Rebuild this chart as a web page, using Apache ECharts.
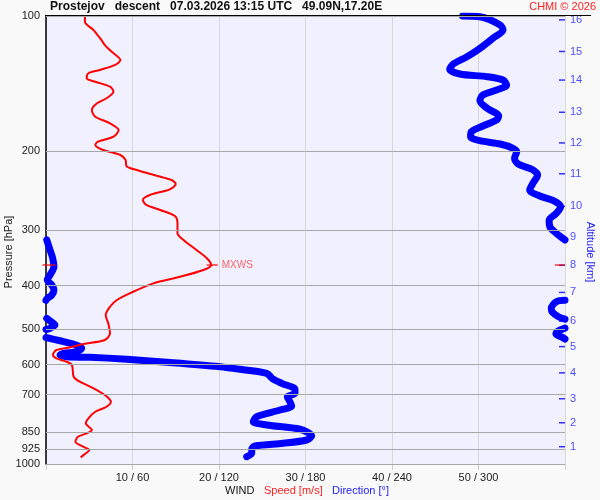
<!DOCTYPE html>
<html>
<head>
<meta charset="utf-8">
<script src="https://cdn.jsdelivr.net/npm/echarts@6/dist/echarts.min.js"></script>
<style>
html, body { margin: 0; padding: 0; background: #f9f9f9; }
#chart { width: 600px; height: 500px; }
</style>
</head>
<body>
<div id="chart"></div>
<script>
// pressure levels with grid lines (hPa)
const pressureTicks = [100, 200, 300, 400, 500, 600, 700, 850, 925, 1000]

// altitude marks on the right side: km and the pressure they sit at
const altKm = [1, 2, 3, 4, 5, 6, 7, 8, 9, 10, 11, 12, 13, 14, 15, 16]
const altP = [915, 809, 715, 626, 547, 480, 414, 360, 311, 266, 225, 192, 164, 139, 120, 102]

// wind speed profile [m/s] vs pressure [hPa]
const speedP = [100, 103, 107.5, 113.1, 116.1, 120.2, 125.4, 128.6, 132.0, 134.2, 137.7, 140.2, 143.8, 147.6, 152.6, 156.6,
  162.1, 167.8, 173.6, 179.7, 185.9, 190.8, 194.1, 199.1, 204.3, 209.6, 216.2, 220.7, 227.3, 232.3, 237.1, 243.7,
  250.9, 257.4, 264.1, 271.0, 279.5, 290.2, 305.5, 316.2, 332.9, 347.4, 359.6, 369.0, 381.9, 395.2, 412.6, 430.5,
  445.6, 465.0, 485.3, 510.9, 528.8, 539.8, 549.0, 556.7, 571.2, 581.0, 591.2, 601.2, 638.5, 655.2, 677.7, 701.5,
  726.1, 745.0, 764.4, 790.7, 811.3, 839.7, 854.1, 869.2, 891.8, 915.0, 930.7, 950.0, 966.3]
const speedV = [4.5, 4.5, 5.5, 6.4, 6.8, 7.6, 8.6, 8.0, 6.2, 4.9, 4.7, 5.7, 7.4, 7.8, 7.0, 5.9,
  5.3, 5.7, 7.4, 8.4, 7.8, 6.0, 5.7, 6.6, 8.6, 9.2, 9.3, 10.5, 12.8, 14.5, 15.0, 14.3,
  12.0, 11.2, 11.6, 13.2, 14.9, 15.2, 15.2, 15.9, 17.4, 18.6, 19.1, 18.2, 15.5, 12.4, 10.1, 8.2,
  7.4, 6.9, 7.2, 7.4, 6.8, 4.3, 2.8, 1.2, 0.8, 1.2, 2.4, 3.0, 3.2, 3.9, 5.5, 6.8,
  7.5, 7.0, 5.7, 4.9, 4.6, 5.3, 4.7, 3.7, 3.4, 4.3, 5.0, 4.5, 4.0]

// wind direction [deg] vs pressure, null = line break where it wraps 360 -> 0
const dirP = [100, 100.4, 104.7, 107.5, 112.1, 118.1, 123.3, 128.0, 131.5, 134.7, 136.6, 139.0, 142.6, 146.3, 150.1, 154.6,
  160.7, 167.2, 170.7, 176.0, 181.3, 185.9, 189.8, 193.1, 197.4, 200.9, 207.8, 214.0, 219.9, 226.4, 235.6, 244.6,
  252.2, 258.4, 266.5, 275.6, 285.4, 295.4, 305.5, 316, null,
  316, 332.9, 346.9, 362.7, 378.6, 388.5, 398.6, 409.0, 419.6, 428.3, 431, null,
  431, 434.2, 449.2, 457.1, 469.1, 475, null,
  473, 485.3, 489.5, 497.9, 501, null,
  497.5, 504.9, 512.7, 521, 526, null,
  522, 530.7, 539.8, 551.7, 561.5, 566.2, 571.2, 576.2, 577.9, 583.9, 594.2, 606.6, 614.7, 627.5, 643.8, 660.5,
  681.3, 695.4, 707.7, 726.1, 742.2, 757.7, 784.2, 804.5, 818.2, 836.5, 866.0, 884.0, 899.2, 911.8, 927.3, 946.5, 963.2]
const dirV = [289, 301, 315, 317, 310, 301, 292, 282.5, 280, 287, 306, 317, 319.5, 312.5, 303, 301,
  306, 314, 312.5, 303, 295, 294.5, 301, 315, 324, 326.5, 325, 327.5, 337, 341, 338, 335.5,
  342.5, 352, 357, 354, 349, 349.5, 354, 360, null,
  0.5, 2.8, 4.6, 5.5, 2.8, 0.9, 4.0, 5.5, 4.0, 0.5, 0, null,
  360, 354, 350.5, 351, 355.5, 360, null,
  0.5, 5, 6.2, 2.8, 0, null,
  360, 355.3, 353.7, 357.9, 360, null,
  0, 9.7, 18.9, 24.8, 21.3, 12, 9.7, 14.4, 30.5, 56, 88.3, 120.7, 134.6, 153.1, 156.8, 163.5,
  172.7, 172.7, 167.4, 169.2, 170.4, 162.3, 146.1, 143.8, 153.1, 176.2, 184.3, 180.8, 164.6, 145, 142.7, 142.7, 139.2]

// maximum wind level
const mxwsP = 359.6
const mxwsSpeed = 19.1

const font = 'Liberation Sans, Arial, sans-serif'
const red = '#ff0000'
const blue = '#0000ff'

const speedData = speedV.map((v, i) => [v, speedP[i]])
const dirData = dirV.map((v, i) => (v === null ? ['-', '-'] : [v, dirP[i]]))

const chart = echarts.init(document.getElementById('chart'))
chart.setOption({
  animation: false,
  backgroundColor: '#f9f9f9',
  textStyle: { fontFamily: font },
  grid: {
    left: 46,
    right: 35,
    top: 16,
    bottom: 36,
    show: true,
    backgroundColor: '#f0f0ff',
    borderWidth: 0
  },
  xAxis: [
    {
      type: 'value',
      min: 0,
      max: 60,
      interval: 10,
      axisLine: { show: false },
      axisTick: { show: true, length: 6, lineStyle: { color: '#d0d0d0' } },
      splitLine: { show: true, lineStyle: { color: '#d8d8d8', width: 1 } },
      axisLabel: {
        margin: 8,
        color: '#222',
        fontSize: 11,
        fontFamily: font,
        formatter: v => (v === 0 || v === 60 ? '' : v + ' / ' + v * 6)
      }
    },
    {
      type: 'value',
      min: 0,
      max: 360,
      show: false
    }
  ],
  yAxis: {
    type: 'log',
    logBase: 10,
    min: 100,
    max: 1000,
    inverse: true,
    axisLine: { show: true, lineStyle: { color: '#000', width: 1.5 } },
    axisTick: { show: false },
    axisLabel: { show: false },
    splitLine: { show: false }
  },
  series: [
    {
      // pressure grid lines + labels
      type: 'line',
      data: [],
      silent: true,
      markLine: {
        silent: true,
        symbol: 'none',
        animation: false,
        lineStyle: { color: '#a8a8a8', width: 1, type: 'solid' },
        label: {
          position: 'start',
          distance: 6,
          color: '#222',
          fontSize: 11,
          fontFamily: font,
          formatter: p => p.value
        },
        data: pressureTicks.map(p => ({ yAxis: p }))
      }
    },
    {
      name: 'Direction',
      type: 'line',
      xAxisIndex: 1,
      data: dirData,
      symbol: 'none',
      smooth: 0.3,
      connectNulls: false,
      lineStyle: { color: blue, width: 7, cap: 'round', join: 'round' },
      z: 3
    },
    {
      name: 'Speed',
      type: 'line',
      data: speedData,
      symbol: 'none',
      smooth: 0.3,
      lineStyle: { color: red, width: 2 },
      z: 4
    },
    {
      // altitude ticks on the right edge
      type: 'scatter',
      data: altKm.map((k, i) => ({ value: [60, altP[i]], km: k })),
      symbol: 'rect',
      symbolSize: [6, 1.5],
      symbolOffset: [-3, 0],
      itemStyle: { color: blue },
      label: {
        show: true,
        position: 'right',
        distance: 5,
        color: '#2020ff',
        fontSize: 11,
        fontFamily: font,
        formatter: p => p.data.km
      },
      silent: true,
      z: 5
    },
    {
      // max wind marks
      type: 'scatter',
      symbol: 'rect',
      itemStyle: { color: red },
      silent: true,
      z: 6,
      data: [
        { value: [0, mxwsP], symbolSize: [13, 1.5], symbolOffset: [3, 0] },
        { value: [60, mxwsP], symbolSize: [10, 1.5], symbolOffset: [-5, 0] },
        {
          value: [mxwsSpeed, mxwsP],
          symbolSize: [11, 1.5],
          symbolOffset: [1, 0],
          label: {
            show: true,
            position: 'right',
            distance: 4,
            color: '#ff4040',
            fontSize: 10,
            fontFamily: font,
            formatter: 'MXWS'
          }
        }
      ]
    }
  ],
  graphic: [
    {
      type: 'line',
      z: 100,
      shape: { x1: 45, y1: 15.5, x2: 591, y2: 15.5 },
      style: { stroke: '#000', lineWidth: 1 }
    },
    {
      type: 'text',
      x: 50,
      y: 7,
      style: {
        text: 'Prostejov   descent   07.03.2026 13:15 UTC   49.09N,17.20E',
        font: 'bold 12px ' + font,
        fill: '#111',
        verticalAlign: 'middle'
      }
    },
    {
      type: 'text',
      x: 596,
      y: 7,
      style: { text: 'CHMI © 2026', font: '11px ' + font, fill: '#ff2020', align: 'right', verticalAlign: 'middle' }
    },
    {
      type: 'text',
      x: 9,
      y: 252,
      rotation: Math.PI / 2,
      style: { text: 'Pressure [hPa]', font: '11px ' + font, fill: '#222', align: 'center', verticalAlign: 'middle' }
    },
    {
      type: 'text',
      x: 590,
      y: 252,
      rotation: -Math.PI / 2,
      style: { text: 'Altitude [km]', font: '11px ' + font, fill: '#2020ff', align: 'center', verticalAlign: 'middle' }
    },
    {
      type: 'text',
      x: 225,
      y: 491,
      style: { text: 'WIND', font: '11px ' + font, fill: '#111', verticalAlign: 'middle' }
    },
    {
      type: 'text',
      x: 264,
      y: 491,
      style: { text: 'Speed [m/s]', font: '11px ' + font, fill: '#ff2020', verticalAlign: 'middle' }
    },
    {
      type: 'text',
      x: 332,
      y: 491,
      style: { text: 'Direction [°]', font: '11px ' + font, fill: '#2020ff', verticalAlign: 'middle' }
    }
  ]
})
</script>
</body>
</html>
